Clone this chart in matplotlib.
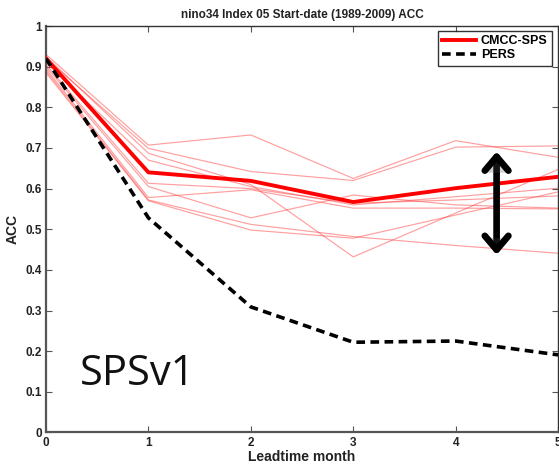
import matplotlib
matplotlib.use("Agg")
import matplotlib.pyplot as plt
import matplotlib.patheffects as pe

# Lead time (months)
leadtime = [0, 1, 2, 3, 4, 5]

# ACC of individual ensemble members
member_acc = [
    [0.930, 0.707, 0.732, 0.625, 0.718, 0.677],
    [0.920, 0.699, 0.642, 0.620, 0.702, 0.705],
    [0.925, 0.687, 0.610, 0.432, 0.540, 0.647],
    [0.910, 0.670, 0.605, 0.560, 0.580, 0.601],
    [0.905, 0.613, 0.600, 0.564, 0.572, 0.582],
    [0.900, 0.605, 0.528, 0.584, 0.560, 0.552],
    [0.895, 0.578, 0.597, 0.552, 0.552, 0.550],
    [0.890, 0.572, 0.512, 0.482, 0.460, 0.441],
    [0.885, 0.570, 0.498, 0.478, 0.535, 0.592],
]

# ACC of the ensemble mean and of persistence
cmcc_sps = [0.920, 0.640, 0.619, 0.567, 0.601, 0.629]
pers = [0.920, 0.528, 0.309, 0.222, 0.225, 0.191]

# Spread arrow (lead time, lower and upper ACC)
spread_x = 4.40
spread_lo, spread_hi = 0.437, 0.691

yticks = [0, 0.1, 0.2, 0.3, 0.4, 0.5, 0.6, 0.7, 0.8, 0.9, 1]
ytick_labels = ["0", "0.1", "0.2", "0.3", "0.4", "0.5", "0.6", "0.7", "0.8", "0.9", "1"]
xtick_labels = ["0", "1", "2", "3", "4", "5"]

plt.rcParams["font.family"] = ["Liberation Sans", "DejaVu Sans"]

fig = plt.figure(figsize=(5.59, 4.67), dpi=100)
ax = fig.add_axes([0.0823, 0.0739, 0.916, 0.8704])

for m in member_acc:
    ax.plot(leadtime, m, color="#ff4040", alpha=0.5, lw=0.85, zorder=2)

ax.plot(leadtime, cmcc_sps, color="red", lw=2.8, label="CMCC-SPS", zorder=3)
ax.plot(leadtime, pers, color="black", lw=2.6, linestyle=(0, (2.4, 1.5)),
        label="PERS", zorder=3)

ax.annotate("", xy=(spread_x, spread_hi), xytext=(spread_x, spread_lo),
            arrowprops=dict(arrowstyle="<->,head_length=1.0,head_width=0.85",
                            color="black", lw=4.8, shrinkA=0, shrinkB=0,
                            path_effects=[pe.SimplePatchShadow(offset=(1.5, -1.5),
                                                               alpha=0.25),
                                          pe.Normal()]),
            zorder=5)

ax.text(0.33, 0.117, "SPSv1", fontsize=30, family=["Open Sans", "DejaVu Sans"],
        color="#111111", ha="left", va="baseline", transform=ax.transData)

ax.set_xlim(0, 5)
ax.set_ylim(0, 1)
ax.set_xticks(leadtime)
ax.set_xticklabels(xtick_labels, fontweight="bold", fontsize=8.5)
ax.set_yticks(yticks)
ax.set_yticklabels(ytick_labels, fontweight="bold", fontsize=8.5)
ax.tick_params(direction="in", length=4, width=0.8, top=True, right=True,
               color="#555555", labelcolor="#222222")
ax.tick_params(axis="x", pad=3)
ax.tick_params(axis="y", pad=3)

for side in ["left", "bottom"]:
    ax.spines[side].set_color("#555555")
    ax.spines[side].set_linewidth(1.6)
for side in ["top", "right"]:
    ax.spines[side].set_color("#333333")
    ax.spines[side].set_linewidth(1.0)

ax.set_title("nino34 Index 05 Start-date (1989-2009) ACC", fontsize=8.5,
             fontweight="bold", color="#222222", pad=6)
ax.set_xlabel("Leadtime month", fontsize=10, fontweight="bold", color="#222222",
              labelpad=1)
ax.set_ylabel("ACC", fontsize=10, fontweight="bold", color="#222222", labelpad=4)

leg = ax.legend(loc="upper right", prop={"weight": "bold", "size": 9},
                frameon=True, fancybox=False, handlelength=2.7,
                borderaxespad=0.0, borderpad=0.35, labelspacing=0.15,
                handletextpad=0.4, bbox_to_anchor=(0.9883, 0.988))
leg.get_frame().set_edgecolor("black")
leg.get_frame().set_linewidth(1.0)

fig.savefig("out.png", dpi=100)
